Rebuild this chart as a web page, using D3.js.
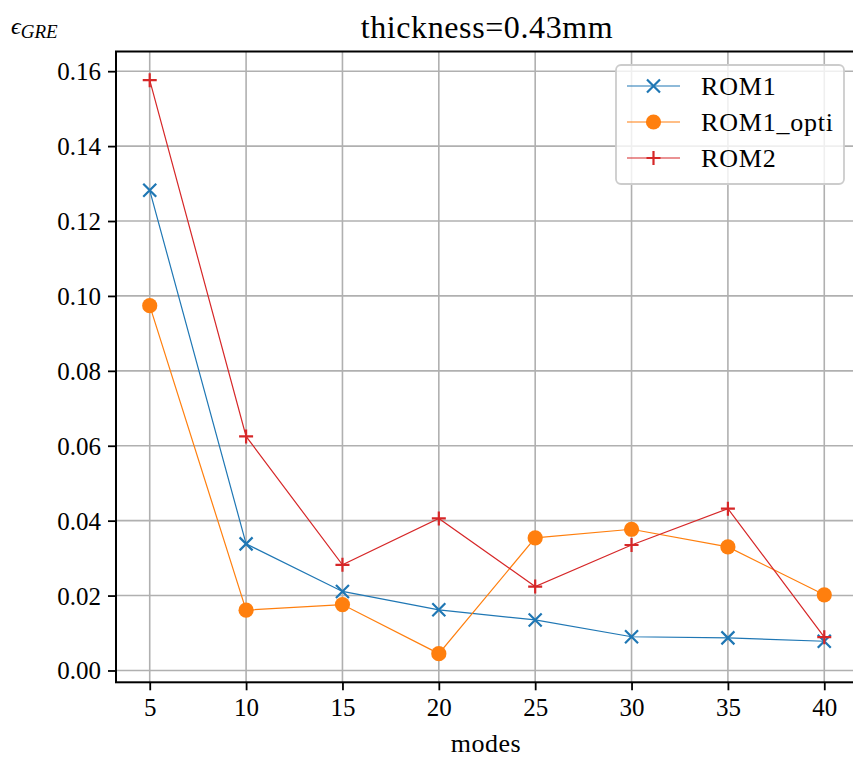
<!DOCTYPE html>
<html>
<head>
<meta charset="utf-8">
<script src="https://cdn.jsdelivr.net/npm/d3@7"></script>
<style>
  html, body { margin: 0; padding: 0; background: #fff; }
  svg { display: block; overflow: hidden; }
</style>
</head>
<body>
<svg id="chart" width="853" height="762"></svg>
<script>
const modes = [5, 10, 15, 20, 25, 30, 35, 40];
const rom1 = [0.1282, 0.0338, 0.0211, 0.0162, 0.0135, 0.0090, 0.0087, 0.0078];
const rom1Opti = [0.0974, 0.0161, 0.0176, 0.0045, 0.0354, 0.0377, 0.0330, 0.0202];
const rom2 = [0.1576, 0.0625, 0.0282, 0.0406, 0.0224, 0.0335, 0.0432, 0.0089];
const xTicks = [5, 10, 15, 20, 25, 30, 35, 40];
const yTicks = [0.00, 0.02, 0.04, 0.06, 0.08, 0.10, 0.12, 0.14, 0.16];
const seriesNames = ["ROM1", "ROM1_opti", "ROM2"];
const seriesColors = ["#1f77b4", "#ff7f0e", "#d62728"];
const seriesMarkers = ["x", "o", "+"];
const seriesValues = [rom1, rom1Opti, rom2];

const FONT = '"Liberation Serif", "Times New Roman", serif';
const svg = d3.select("#chart");
const L = 116, T = 51.5, R = 858, B = 682.3;

const xExt = d3.extent(modes);
const xPad = (xExt[1] - xExt[0]) * 0.05;
const allY = seriesValues.flat();
const yExt = d3.extent(allY);
const yPad = (yExt[1] - yExt[0]) * 0.05;

const x = d3.scaleLinear().domain([xExt[0] - xPad, xExt[1] + xPad]).range([L, R]);
const y = d3.scaleLinear().domain([yExt[0] - yPad, yExt[1] + yPad]).range([B, T]);

// grid
const grid = svg.append("g");
grid.selectAll("line.vx").data(xTicks).enter().append("line")
  .attr("x1", d => x(d)).attr("x2", d => x(d)).attr("y1", T).attr("y2", B)
  .attr("stroke", "#b0b0b0").attr("stroke-width", 1.6);
grid.selectAll("line.hy").data(yTicks).enter().append("line")
  .attr("y1", d => y(d)).attr("y2", d => y(d)).attr("x1", L).attr("x2", R)
  .attr("stroke", "#b0b0b0").attr("stroke-width", 1.6);

// axes
const xAxis = d3.axisBottom(x).tickValues(xTicks).tickSize(8).tickPadding(6).tickFormat(d3.format("d"));
const yAxis = d3.axisLeft(y).tickValues(yTicks).tickSize(8).tickPadding(7).tickFormat(d3.format(".2f"));
const gx = svg.append("g").attr("transform", `translate(0,${B})`).call(xAxis);
const gy = svg.append("g").attr("transform", `translate(${L},0)`).call(yAxis);
[gx, gy].forEach(g => {
  g.attr("font-family", null).attr("font-size", null);
  g.select(".domain").remove();
  g.selectAll(".tick line").attr("stroke", "#000").attr("stroke-width", 1.8);
  g.selectAll(".tick text").style("font-family", FONT).style("font-size", "25px").attr("fill", "#000");
});
gx.selectAll(".tick text").attr("dy", "0.78em");
gy.selectAll(".tick text").attr("dy", "0.34em");

// frame
svg.append("rect").attr("x", L).attr("y", T).attr("width", R - L).attr("height", B - T)
  .attr("fill", "none").attr("stroke", "#000").attr("stroke-width", 2);

// marker helper
function drawMarker(g, type, color, cx, cy) {
  if (type === "x") {
    const s = 6.5;
    g.append("path").attr("d", `M${cx - s},${cy - s}L${cx + s},${cy + s}M${cx - s},${cy + s}L${cx + s},${cy - s}`)
      .attr("stroke", color).attr("stroke-width", 2.2).attr("fill", "none");
  } else if (type === "o") {
    g.append("circle").attr("cx", cx).attr("cy", cy).attr("r", 7.6).attr("fill", color);
  } else {
    const s = 7;
    g.append("path").attr("d", `M${cx - s},${cy}L${cx + s},${cy}M${cx},${cy - s}L${cx},${cy + s}`)
      .attr("stroke", color).attr("stroke-width", 2.2).attr("fill", "none");
  }
}

// series
const line = d3.line().x((d, i) => x(modes[i])).y(d => y(d));
seriesValues.forEach((vals, k) => {
  const g = svg.append("g");
  g.append("path").datum(vals).attr("d", line).attr("fill", "none")
    .attr("stroke", seriesColors[k]).attr("stroke-width", 1.2);
  vals.forEach((v, i) => drawMarker(g, seriesMarkers[k], seriesColors[k], x(modes[i]), y(v)));
});

// legend
const lg = svg.append("g");
lg.append("rect").attr("x", 616).attr("y", 65).attr("width", 228).attr("height", 119).attr("rx", 5)
  .attr("fill", "rgba(255,255,255,0.8)").attr("stroke", "#cccccc").attr("stroke-width", 1.8);
const rowY = [86, 122, 158];
seriesNames.forEach((name, k) => {
  const yy = rowY[k];
  lg.append("line").attr("x1", 627).attr("x2", 680).attr("y1", yy).attr("y2", yy)
    .attr("stroke", seriesColors[k]).attr("stroke-width", 1.2);
  drawMarker(lg, seriesMarkers[k], seriesColors[k], 653.5, yy);
  lg.append("text").attr("x", 701).attr("y", yy + 9)
    .style("font-family", FONT).style("font-size", "26px").style("letter-spacing", "0.8px")
    .attr("fill", "#000").text(name);
});

// title
svg.append("text").attr("x", (L + R) / 2).attr("y", 38).attr("text-anchor", "middle")
  .style("font-family", FONT).style("font-size", "32px").style("letter-spacing", "0.6px")
  .attr("fill", "#000").text("thickness=0.43mm");

// x label
svg.append("text").attr("x", (L + R) / 2 - 1).attr("y", 752).attr("text-anchor", "middle")
  .style("font-family", FONT).style("font-size", "26px").style("letter-spacing", "0.5px")
  .attr("fill", "#000").text("modes");

// y label
const yl = svg.append("text").attr("x", 11).attr("y", 34)
  .style("font-family", FONT).style("font-size", "24px").attr("fill", "#000");
yl.append("tspan").style("font-style", "italic").text("\u03F5");
yl.append("tspan").attr("dy", 4).style("font-style", "italic").style("font-size", "19px").text("GRE");
</script>
</body>
</html>
